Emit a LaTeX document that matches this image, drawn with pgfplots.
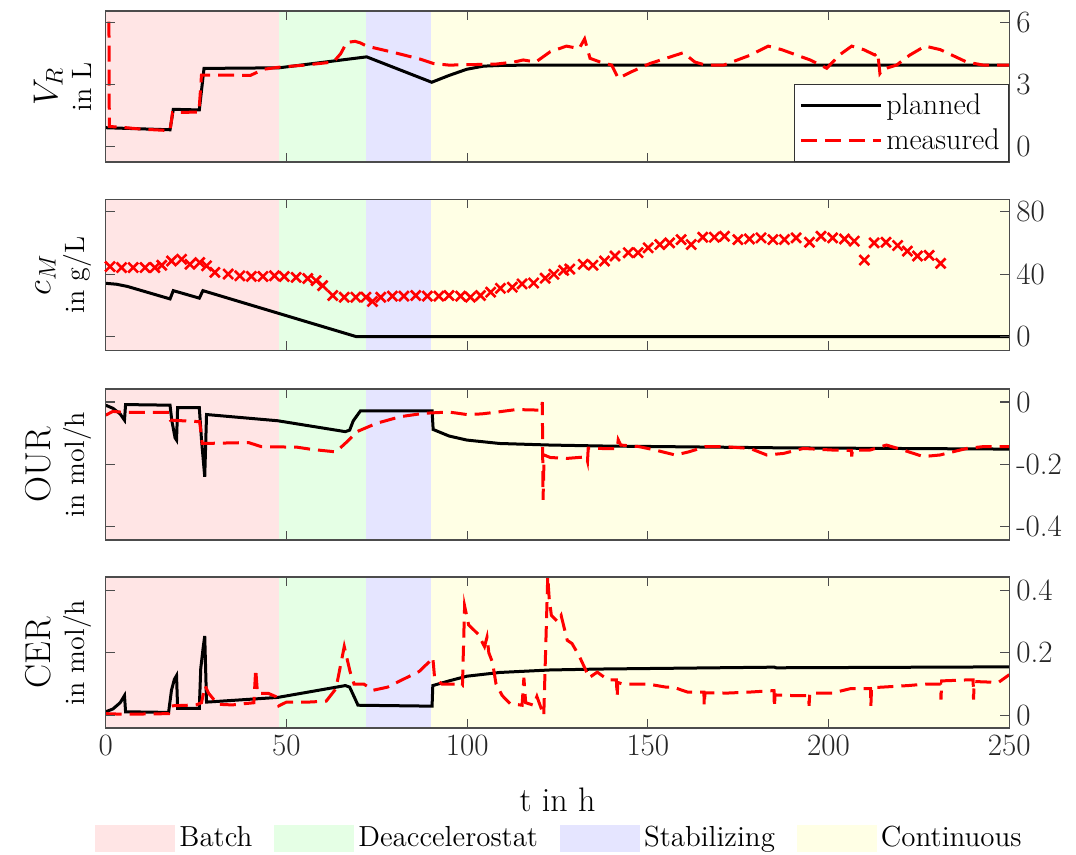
\documentclass[border=0pt]{standalone}
\usepackage{pgfplots}
\pgfplotsset{compat=1.18}
\definecolor{cBatch}{RGB}{255,229,229}
\definecolor{cDeacc}{RGB}{229,255,229}
\definecolor{cStab}{RGB}{229,229,255}
\definecolor{cCont}{RGB}{255,255,229}
\pgfplotsset{
  panel/.style={
    scale only axis, width=451.8pt, height=75.5pt,
    xmin=0, xmax=250, xtick={0,50,100,150,200,250}, xticklabels={},
    tick align=inside, xtick pos=both, ytick pos=both, yticklabel pos=right,
    axis line style={draw=black!70, line width=0.6pt},
    major tick length=4.5pt,
    tick style={draw=black!70, line width=0.6pt},
    tick label style={font=\fontsize{15.5}{18}\selectfont, text=black!85},
    /pgf/number format/assume math mode=true,
    every axis y label/.style={at={(axis description cs:-0.008,0.5)}, rotate=90, anchor=south, align=center, font=\fontsize{14}{16}\selectfont},
    axis on top, anchor=north west,
  },
  plan/.style={black, line width=1.5pt},
  meas/.style={red, line width=1.5pt, dash pattern=on 8pt off 4pt},
}
\begin{document}
\begin{tikzpicture}
\path[use as bounding box] (-52.85pt,5.5pt) rectangle (485.15pt,-422pt);
% ---------------- Panel 1: V_R
\begin{axis}[panel, at={(0pt,0pt)}, ymin=-0.74, ymax=6.57, ytick={0,3,6},
  ylabel={{\fontsize{18}{15}\selectfont $V_R$}\\[1pt]in L},
  legend style={at={(1,0)}, anchor=south east, draw=black!80, fill=white, line width=0.6pt,
    font=\fontsize{15}{17}\selectfont, inner sep=2.5pt, row sep=1.5pt},
  legend cell align=left,
  legend image code/.code={\draw[#1] (0pt,0pt) -- (40pt,0pt);}]
\addplot[fill=cBatch, draw=none, forget plot] coordinates {(0,-1) (48,-1) (48,7) (0,7)} -- cycle;
\addplot[fill=cDeacc, draw=none, forget plot] coordinates {(48,-1) (72,-1) (72,7) (48,7)} -- cycle;
\addplot[fill=cStab, draw=none, forget plot] coordinates {(72,-1) (90,-1) (90,7) (72,7)} -- cycle;
\addplot[fill=cCont, draw=none, forget plot] coordinates {(90,-1) (250,-1) (250,7) (90,7)} -- cycle;
\addplot[plan] coordinates {(0,0.92) (17.8,0.82) (18.7,1.81) (25.9,1.78) (27.2,3.79) (48,3.82) (72.2,4.35) (90.2,3.12) (95,3.45) (99.9,3.75) (104.5,3.9) (110,3.94) (120,3.95) (250,3.95)};
\addlegendentry{planned}
\addplot[meas] coordinates {(0.9,6.05) (1.0,0.98) (5,0.93) (10,0.85) (17.8,0.78) (18.5,1.65) (23.5,1.67) (25.8,1.67) (26.5,3.47) (35,3.47) (40,3.45) (43.7,3.75) (48,3.85) (55,3.95) (63,4.1) (65,4.5) (66.7,5.05) (69,5.1) (70.4,5.03) (72.2,4.87) (80,4.55) (87,4.24) (90.6,4.03) (95,3.95) (100,3.97) (108,4.0) (113,4.1) (115.5,4.2) (119,4.1) (123,4.6) (127.5,4.87) (131,4.75) (132.5,5.22) (134,4.28) (136.8,4.1) (140,3.95) (141.8,3.31) (145.5,3.63) (150.6,4.03) (159.8,4.55) (163,4.1) (166,3.95) (171,3.95) (178.3,4.43) (183.3,4.87) (187,4.7) (194.9,4.2) (199.5,3.8) (203,4.44) (206.4,4.87) (209.7,4.7) (212.8,4.44) (213.6,4.55) (214.2,3.55) (215,3.75) (218.8,3.95) (222.5,4.44) (226.7,4.87) (230.9,4.7) (238.2,4.1) (242.8,3.95) (250,3.95)};
\addlegendentry{measured}
\end{axis}
% ---------------- Panel 2: c_M
\begin{axis}[panel, at={(0pt,-94.15pt)}, ymin=-8.7, ymax=88, ytick={0,40,80},
  ylabel={{\fontsize{18}{15}\selectfont $c_M$}\\[1pt]in g/L}]
\addplot[fill=cBatch, draw=none] coordinates {(0,-10) (48,-10) (48,90) (0,90)} -- cycle;
\addplot[fill=cDeacc, draw=none] coordinates {(48,-10) (72,-10) (72,90) (48,90)} -- cycle;
\addplot[fill=cStab, draw=none] coordinates {(72,-10) (90,-10) (90,90) (72,90)} -- cycle;
\addplot[fill=cCont, draw=none] coordinates {(90,-10) (250,-10) (250,90) (90,90)} -- cycle;
\addplot[plan] coordinates {(0,34.2) (3,33.6) (6,32.2) (17.8,24.2) (18.7,29.5) (25.9,24.7) (26.9,29.5) (48.2,14.7) (69.4,0) (250,0)};
\addplot[red, only marks, mark=x, mark size=3.5pt, mark options={line width=1.3pt}] coordinates {(1.2,44.9) (4.4,44.3) (7.6,44.3) (10.9,44.3) (13.6,44.3) (15.5,45.8) (18.2,48.5) (21,49.6) (23.3,46.4) (26,47.5) (27.9,45.4) (30.2,41.2) (33.9,40.1) (37.1,39) (40.3,38.6) (43.5,38.6) (46.7,39) (49.4,38.6) (52.7,38) (55.9,37.3) (58.2,35.9) (60,32.7) (62.8,26.4) (66,25.3) (69.2,25.3) (72,25.3) (73.8,22.6) (76.1,25.3) (79.3,26) (82.5,26) (85.8,26.4) (89,26) (92.2,26) (95,26.4) (98.2,26) (100.9,25.3) (103.7,26.4) (106.5,28.5) (109.2,31) (112.5,31.7) (115.2,33.8) (118.4,34.4) (121.6,37.5) (124,40) (126.7,42.5) (128.4,43.3) (132.1,46.4) (134.8,45.8) (138,48.5) (140.9,51.7) (144.6,53.8) (147.3,53.8) (150.1,56.9) (153.3,59) (156,60.1) (159.2,62.2) (162,59) (165.2,63.7) (168.4,63.7) (171.2,64.3) (174.9,62.2) (178.1,62.6) (181.3,63.3) (184.6,62.2) (187.8,62.2) (191,63.3) (194.7,60.5) (197.9,64.3) (201.1,63.3) (204.4,62.6) (207.1,61.2) (209.9,49.1) (212.6,60.1) (215.9,60.5) (219.1,58.4) (221.8,54.8) (224.6,51.7) (227.8,52.1) (231,47)};
\end{axis}
% ---------------- Panel 3: OUR
\begin{axis}[panel, at={(0pt,-189pt)}, ymin=-0.443, ymax=0.042, ytick={-0.4,-0.2,0},
  ylabel={{\fontsize{18}{15}\selectfont OUR}\\[1pt]in mol/h}]
\addplot[fill=cBatch, draw=none] coordinates {(0,-0.5) (48,-0.5) (48,0.1) (0,0.1)} -- cycle;
\addplot[fill=cDeacc, draw=none] coordinates {(48,-0.5) (72,-0.5) (72,0.1) (48,0.1)} -- cycle;
\addplot[fill=cStab, draw=none] coordinates {(72,-0.5) (90,-0.5) (90,0.1) (72,0.1)} -- cycle;
\addplot[fill=cCont, draw=none] coordinates {(90,-0.5) (250,-0.5) (250,0.1) (90,0.1)} -- cycle;
\addplot[plan] coordinates {(0,-0.01) (2,-0.02) (4,-0.038) (5.2,-0.058) (5.5,-0.008) (17.8,-0.01) (18.3,-0.06) (19.2,-0.115) (19.6,-0.122) (19.9,-0.018) (25.9,-0.018) (26.5,-0.12) (27.4,-0.24) (27.9,-0.04) (47.6,-0.06) (66.3,-0.095) (67.5,-0.09) (68.5,-0.06) (70.5,-0.028) (90.3,-0.028) (90.6,-0.088) (95,-0.109) (99.9,-0.122) (109,-0.133) (122.9,-0.138) (136.8,-0.141) (187,-0.147) (250,-0.151)};
\addplot[meas] coordinates {(0,-0.042) (2,-0.03) (5,-0.033) (17.5,-0.033) (17.9,-0.058) (26,-0.063) (26.7,-0.133) (39.5,-0.13) (43,-0.143) (53,-0.145) (57,-0.152) (63.7,-0.16) (66.8,-0.127) (69.5,-0.095) (75,-0.068) (81.5,-0.047) (88,-0.036) (95,-0.032) (99.9,-0.04) (104,-0.038) (109,-0.031) (113.6,-0.024) (120.5,-0.026) (120.8,0.0) (121,-0.314) (121.3,-0.17) (123,-0.178) (127.5,-0.181) (133,-0.176) (133.3,-0.19) (133.5,-0.148) (136.8,-0.149) (141.5,-0.15) (141.8,-0.121) (142.5,-0.138) (147.5,-0.143) (152,-0.154) (157.6,-0.17) (161.3,-0.16) (166,-0.143) (171,-0.143) (178.3,-0.149) (182.9,-0.17) (187.5,-0.165) (193,-0.149) (201,-0.154) (206.3,-0.155) (206.4,-0.175) (206.6,-0.155) (211.5,-0.154) (216,-0.138) (220.6,-0.154) (226.2,-0.175) (230.8,-0.17) (238.2,-0.149) (242.8,-0.143) (250,-0.143)};
\end{axis}
% ---------------- Panel 4: CER
\begin{axis}[panel, at={(0pt,-283pt)}, ymin=-0.041, ymax=0.443, ytick={0,0.2,0.4},
  xticklabels={0,50,100,150,200,250},
  ylabel={{\fontsize{18}{15}\selectfont CER}\\[1pt]in mol/h},
  xlabel={t in h},
  xlabel style={at={(axis description cs:0.5,0)}, anchor=center, yshift=-36pt, font=\fontsize{17}{20}\selectfont},
  legend columns=4,
  legend style={at={(0.5,0)}, anchor=center, yshift=-55pt, xshift=1.5pt, draw=none, fill=none,
    font=\fontsize{14.5}{17}\selectfont, /tikz/every even column/.append style={column sep=9pt}},
  legend image code/.code={\fill[#1] (0pt,-6.75pt) rectangle (40pt,6.75pt);}]
\addplot[fill=cBatch, draw=none] coordinates {(0,-0.1) (48,-0.1) (48,0.5) (0,0.5)} -- cycle;
\addlegendentry{Batch}
\addplot[fill=cDeacc, draw=none] coordinates {(48,-0.1) (72,-0.1) (72,0.5) (48,0.5)} -- cycle;
\addlegendentry{Deaccelerostat}
\addplot[fill=cStab, draw=none] coordinates {(72,-0.1) (90,-0.1) (90,0.5) (72,0.5)} -- cycle;
\addlegendentry{Stabilizing}
\addplot[fill=cCont, draw=none] coordinates {(90,-0.1) (250,-0.1) (250,0.5) (90,0.5)} -- cycle;
\addlegendentry{Continuous}
\addplot[plan, forget plot] coordinates {(0,0.011) (2,0.02) (4,0.04) (5.2,0.063) (5.5,0.011) (17.4,0.009) (18.2,0.08) (19.0,0.115) (19.6,0.127) (19.9,0.022) (25.9,0.022) (26.3,0.15) (27.0,0.22) (27.4,0.254) (27.9,0.042) (47.6,0.057) (66.3,0.095) (67.5,0.09) (68.7,0.06) (69.8,0.032) (90.3,0.029) (90.5,0.095) (95,0.11) (99.9,0.125) (109,0.137) (122.9,0.145) (136.8,0.148) (185,0.154) (185.5,0.152) (250,0.155)};
\addplot[meas, forget plot] coordinates {(0,0.005) (5,0.003) (17.4,0.005) (18,0.03) (25,0.033) (26.5,0.04) (27.5,0.094) (28.5,0.07) (31,0.035) (35,0.033) (41,0.04) (41.5,0.148) (42,0.07) (45,0.07) (47,0.06) (47.9,0.03) (50,0.042) (56,0.042) (61,0.045) (63.7,0.085) (66,0.22) (67.6,0.14) (68.7,0.1) (71.4,0.1) (74,0.08) (78,0.09) (82.3,0.115) (86.7,0.14) (89.4,0.17) (90.5,0.185) (91,0.12) (93,0.1) (97.6,0.1) (98.7,0.095) (99.3,0.35) (100.4,0.29) (103,0.26) (104.8,0.22) (105.5,0.25) (106,0.2) (107,0.17) (108,0.1) (109.7,0.063) (111.9,0.037) (115.2,0.032) (115.7,0.12) (116.2,0.04) (118.4,0.032) (119.3,0.06) (121.2,-0.001) (122.3,0.444) (122.7,0.375) (123.3,0.32) (125,0.3) (126,0.32) (127.7,0.24) (129,0.23) (131,0.19) (132.6,0.15) (133.7,0.12) (136,0.138) (139,0.113) (141.3,0.113) (141.5,0.06) (141.7,0.105) (143,0.1) (150,0.1) (155,0.09) (157,0.09) (161,0.074) (165.5,0.074) (165.6,0.03) (165.8,0.072) (172,0.071) (178,0.074) (184.9,0.079) (185,0.025) (185.2,0.065) (190,0.063) (194.5,0.063) (194.6,0.03) (194.8,0.071) (201,0.071) (206,0.085) (211.6,0.085) (211.7,0.03) (211.9,0.088) (214.8,0.09) (222,0.095) (227,0.1) (231,0.1) (231.1,0.05) (231.3,0.11) (238,0.113) (240,0.113) (240.1,0.05) (240.3,0.108) (247,0.105) (250,0.13)};
\end{axis}
\end{tikzpicture}
\end{document}
